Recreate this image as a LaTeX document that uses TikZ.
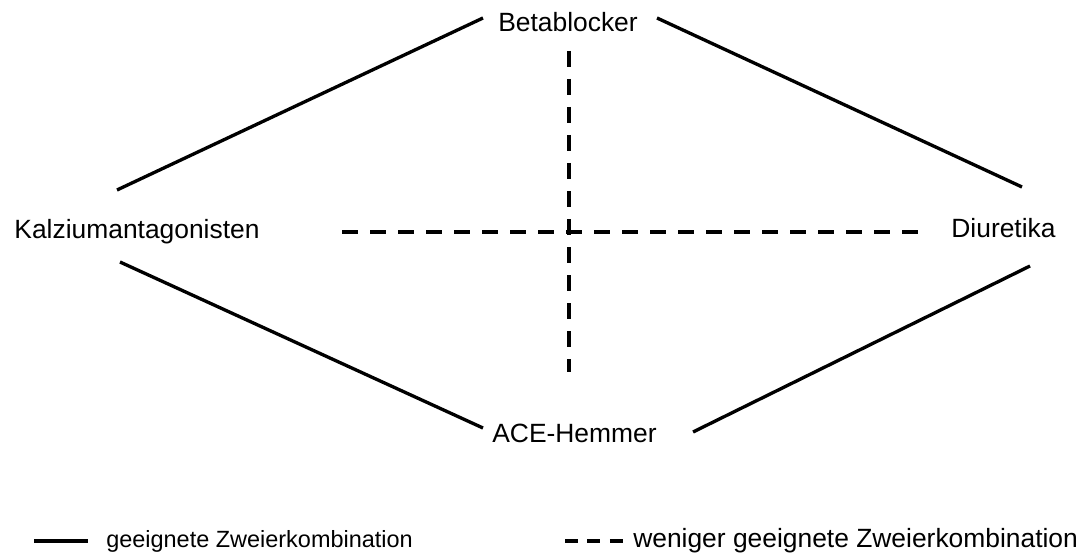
\documentclass[tikz,border=0pt]{standalone}
\usepackage{fontspec}
\setmainfont{Liberation Sans}
\begin{document}
\begin{tikzpicture}[x=0.75pt,y=-0.75pt,
  lbl/.style={inner sep=0pt,anchor=base,font=\fontsize{19.8}{24}\selectfont},
  good/.style={line width=2.5pt},
  weak/.style={line width=2.5pt,dash pattern=on 12pt off 9pt},
  goodleg/.style={line width=3pt},
  weakleg/.style={line width=3pt,dash pattern=on 9.75pt off 7.1pt}]
\useasboundingbox (0,0) rectangle (1088,556);
\node[lbl] (beta) at (568,32) {Betablocker};
\node[lbl] (kalz) at (137,238) {Kalziumantagonisten};
\node[lbl] (diur) at (1003.5,237) {Diuretika};
\node[lbl] (ace) at (574.5,442) {ACE-Hemmer};
% suitable combinations
\draw[good] ([shift={(-85,-14)}]beta.base) -- ([shift={(-20,-48)}]kalz.base);
\draw[good] ([shift={(89,-14)}]beta.base) -- ([shift={(18.5,-50)}]diur.base);
\draw[good] ([shift={(-17,24)}]kalz.base) -- ([shift={(-91.5,-14)}]ace.base);
\draw[good] ([shift={(118.5,-10)}]ace.base) -- ([shift={(26.5,29)}]diur.base);
% less suitable combinations
\draw[weak] ([shift={(1,19)}]beta.base) -- ([shift={(-5.5,-70)}]ace.base);
\draw[weak] ([shift={(205,-6)}]kalz.base) -- ([shift={(-75.5,-5)}]diur.base);
% legend
\coordinate (l1a) at (34,541);
\coordinate (l1b) at (88,541);
\draw[goodleg] (l1a) -- (l1b);
\node[inner sep=0pt,anchor=base west,font=\fontsize{17.6}{21}\selectfont] (leg1) at (106,547) {geeignete Zweierkombination};
\coordinate (l2a) at (565,541);
\coordinate (l2b) at (623,541);
\draw[weakleg] (l2a) -- (l2b);
\node[inner sep=0pt,anchor=base west,font=\fontsize{19.8}{24}\selectfont] (leg2) at (633,547) {weniger geeignete Zweierkombination};
\end{tikzpicture}
\end{document}
